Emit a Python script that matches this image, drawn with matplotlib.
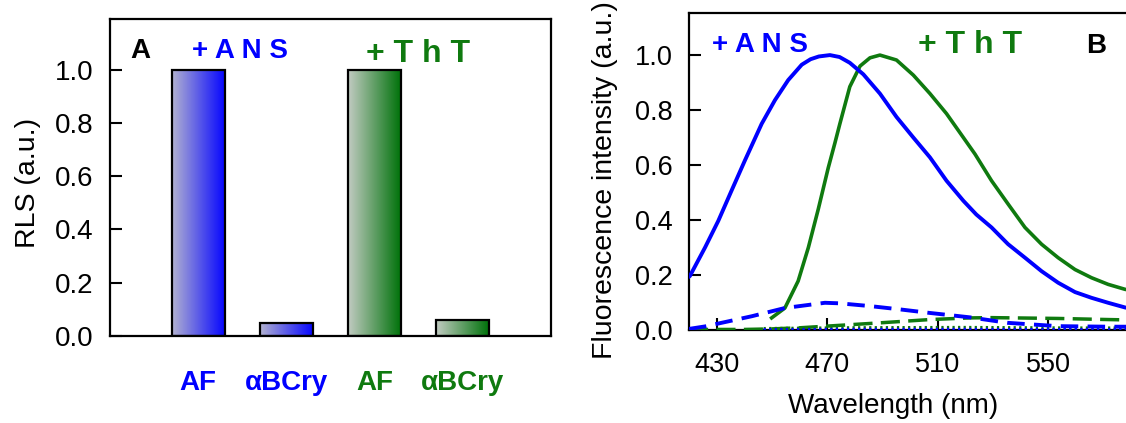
import numpy as np
import matplotlib.pyplot as plt
from matplotlib.colors import LinearSegmentedColormap
from matplotlib.transforms import blended_transform_factory

plt.rcParams['font.family'] = ['Liberation Sans', 'DejaVu Sans']

# ---- panel A: RLS bars ----
bar_labels = ['AF', 'αBCry', 'AF', 'αBCry']
bar_group = ['ANS', 'ANS', 'ThT', 'ThT']
rls = [1.0, 0.05, 1.0, 0.06]

# ---- panel B: fluorescence spectra ----
ans_af_wl = [420.0, 420.3, 425.8, 430.6, 435.4, 440.2, 446.3, 451.1, 455.9, 460.8, 464.0,
             467.0, 471.0, 474.5, 478.2, 483.1, 489.1, 495.1, 501.2, 507.2, 513.2, 519.3,
             524.0, 529.5, 535.5, 541.6, 547.6, 553.6, 559.7, 565.7, 571.7, 577.8, 582.0]
ans_af = [0.194, 0.196, 0.30, 0.397, 0.507, 0.616, 0.75, 0.836, 0.909, 0.965, 0.985,
          0.995, 1.0, 0.993, 0.972, 0.93, 0.86, 0.775, 0.70, 0.628, 0.543, 0.47,
          0.42, 0.373, 0.312, 0.263, 0.214, 0.172, 0.138, 0.117, 0.099, 0.082, 0.074]

tht_af_wl = [449.9, 454.7, 459.5, 463.2, 466.8, 470.4, 472.8, 474.6, 478.2, 481.9, 485.5,
             489.1, 495.1, 501.2, 507.2, 513.2, 519.3, 523.5, 529.5, 535.5, 541.6, 547.6,
             553.6, 559.7, 565.7, 571.7, 577.8, 582.0]
tht_af = [0.044, 0.08, 0.178, 0.30, 0.44, 0.59, 0.68, 0.75, 0.885, 0.96, 0.99,
          1.0, 0.982, 0.927, 0.86, 0.787, 0.70, 0.64, 0.543, 0.458, 0.373, 0.312,
          0.263, 0.22, 0.19, 0.166, 0.148, 0.140]

ans_cry_wl = [420.0, 425.8, 442.7, 454.7, 469.2, 474.6, 485.5, 496.3, 507.2, 521.7, 535.4,
              553.5, 571.7, 582.0]
ans_cry = [0.004, 0.013, 0.05, 0.08, 0.099, 0.097, 0.087, 0.075, 0.062, 0.046, 0.026,
           0.014, 0.012, 0.012]

tht_cry_wl = [420.0, 440.0, 450.0, 460.0, 474.6, 489.1, 507.2, 521.7, 529.5, 553.6, 571.7, 582.0]
tht_cry = [0.002, 0.002, 0.004, 0.008, 0.017, 0.026, 0.038, 0.044, 0.045, 0.042, 0.038, 0.036]

buf_wl = [447.0, 480.0, 520.0, 560.0, 582.0]
ans_buf = [0.002, 0.003, 0.003, 0.002, 0.002]
tht_buf = [0.006, 0.009, 0.010, 0.008, 0.008]

BLUE = '#0000ff'
GREEN = '#0f7a0f'
cmaps = {
    'ANS': LinearSegmentedColormap.from_list('ans', ['#b2b2d0', '#0606ff']),
    'ThT': LinearSegmentedColormap.from_list('tht', ['#c2cbc2', '#00720a']),
}
text_col = {'ANS': BLUE, 'ThT': GREEN}

fig = plt.figure(figsize=(11.26, 4.23), dpi=100)

# ================= panel A =================
axA = fig.add_axes([110/1126, 1-336/423, 441/1126, 317/423])
xpos = np.arange(1, len(rls) + 1)
bars = axA.bar(xpos, rls, width=0.6, facecolor='none', edgecolor='black',
               linewidth=1.6, zorder=3)
grad = np.linspace(0, 1, 256).reshape(1, -1)
for b, g in zip(bars, bar_group):
    x0, w, h = b.get_x(), b.get_width(), b.get_height()
    im = axA.imshow(grad, cmap=cmaps[g], extent=(x0, x0 + w, 0, h),
                    aspect='auto', zorder=2)
    im.set_clip_path(b)
axA.set_xlim(0, 5)
axA.set_ylim(0, 1.19)
axA.set_xticks([])
axA.set_yticks(np.arange(0, 1.01, 0.2))
axA.set_yticklabels([f'{v:.1f}' for v in np.arange(0, 1.01, 0.2)])
axA.tick_params(axis='y', direction='in', length=8.5, width=1.5, labelsize=20, pad=12)
for s in axA.spines.values():
    s.set_linewidth(1.6)

trA = blended_transform_factory(axA.transData, axA.transAxes)
for x, lab, g in zip(xpos, bar_labels, bar_group):
    axA.text(x, -0.170, lab, transform=trA, color=text_col[g], fontsize=20,
             fontweight='bold', ha='center', va='baseline')

axA.text(0.34, 1.042, 'A', fontsize=20, fontweight='bold', ha='center', va='baseline')
axA.text(1.47, 1.042, '+ A N S', color=BLUE, fontsize=20, fontweight='bold',
         ha='center', va='baseline')
axA.text(3.49, 1.028, '+ T h T', color=GREEN, fontsize=23, fontweight='bold',
         ha='center', va='baseline')
fig.text(28/1126, 1-182.5/423, 'RLS (a.u.)', rotation=90, fontsize=20.5,
         ha='center', va='center')

# ================= panel B =================
axB = fig.add_axes([689/1126, 1-330/423, (170*2.763)/1126, 316.7/423])
axB.plot(ans_af_wl, ans_af, color=BLUE, lw=2.8, zorder=4)
axB.plot(tht_af_wl, tht_af, color=GREEN, lw=2.6, zorder=3)
axB.plot(ans_cry_wl, ans_cry, color=BLUE, lw=2.8, ls=(0, (4.5, 2.4)), zorder=4)
axB.plot(tht_cry_wl, tht_cry, color=GREEN, lw=2.5, ls=(0, (5.5, 2.4)), zorder=3)
axB.plot(buf_wl, tht_buf, color=GREEN, lw=2.0, ls=(0, (0.8, 1.2)), zorder=3)
axB.plot(buf_wl, ans_buf, color=BLUE, lw=2.0, ls=(0, (0.8, 1.2)), zorder=4)

axB.set_xlim(420, 590)
axB.set_ylim(0, 1.152)
axB.set_xticks([430, 470, 510, 550])
axB.set_yticks(np.arange(0, 1.01, 0.2))
axB.set_yticklabels([f'{v:.1f}' for v in np.arange(0, 1.01, 0.2)])
axB.tick_params(axis='both', direction='in', length=8.5, width=1.5, labelsize=19.5)
axB.tick_params(axis='y', pad=12)
axB.tick_params(axis='x', pad=16)
for s in axB.spines.values():
    s.set_linewidth(1.6)

axB.text(445.7, 1.012, '+ A N S', color=BLUE, fontsize=20, fontweight='bold',
         ha='center', va='baseline')
axB.text(521.7, 1.006, '+ T h T', color=GREEN, fontsize=23, fontweight='bold',
         ha='center', va='baseline')
axB.text(567.3, 1.006, 'B', fontsize=20, fontweight='bold', ha='center', va='baseline')

fig.text(605/1126, 1-180/423, 'Fluorescence intensity (a.u.)', rotation=90,
         fontsize=20.5, ha='center', va='center')
fig.text(893/1126, 1-413/423, 'Wavelength (nm)', fontsize=20,
         ha='center', va='baseline')

fig.savefig('out.png', dpi=100)
